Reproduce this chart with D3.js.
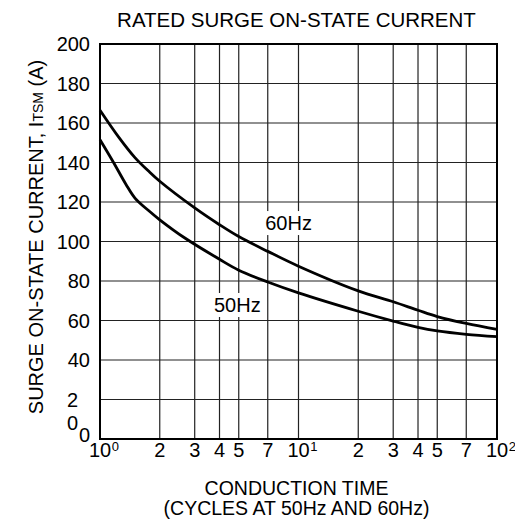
<!DOCTYPE html>
<html><head><meta charset="utf-8">
<script src="https://cdn.jsdelivr.net/npm/d3@7"></script>
<style>
html,body{margin:0;padding:0;background:#fff;}
text{font-family:"Liberation Sans",Arial,Helvetica,sans-serif;fill:#000;}
</style></head>
<body>
<svg id="chart" width="515" height="529"></svg>
<script>
// ---- data ----
const title = "RATED SURGE ON-STATE CURRENT";
const xTitle1 = "CONDUCTION TIME";
const xTitle2 = "(CYCLES AT 50Hz AND 60Hz)";
const cycles60 = [1, 1.25, 1.5, 1.75, 2, 3, 4, 5, 7, 10, 20, 30, 40, 50, 70, 100];
const current60 = [166.5, 152.5, 142.5, 135.8, 130.5, 117, 108.5, 102.5, 95, 87.5, 75, 69.5, 65.2, 62, 58.5, 55.5];
const cycles50 = [1, 1.17, 1.35, 1.5, 1.75, 2, 2.7, 4, 5, 7, 10, 20, 30, 40, 50, 70, 100];
const current50 = [151.5, 140, 129, 122, 115.8, 111, 101.5, 91, 85.5, 79.5, 74, 64.7, 59.7, 56.5, 54.7, 53, 51.8];
const xTickValues = [1, 2, 3, 4, 5, 7, 10, 20, 30, 40, 50, 70, 100];
const xTickLabels = ["10^0", "2", "3", "4", "5", "7", "10^1", "2", "3", "4", "5", "7", "10^2"];
const yTickValues = [0, 20, 40, 60, 80, 100, 120, 140, 160, 180, 200];
const yTickLabels = ["0", "2", "40", "60", "80", "100", "120", "140", "160", "180", "200"];
const seriesLabels = ["60Hz", "50Hz"];
const seriesLabelAt = [[6.8, 105.8], [3.75, 64.3]];

// ---- layout ----
const svg = d3.select("#chart");
const L = 100, R = 497, T = 44, B = 439;
const x = d3.scaleLog().domain([1, 100]).range([L, R]);
const y = d3.scaleLinear().domain([0, 200]).range([B, T]);
const FS = 20;

// grid
const g = svg.append("g");
g.selectAll("line.v").data(xTickValues).join("line")
  .attr("x1", d => x(d)).attr("x2", d => x(d)).attr("y1", T).attr("y2", B)
  .attr("stroke", "#222").attr("stroke-width", 1.2);
g.selectAll("line.h").data(yTickValues).join("line")
  .attr("x1", L).attr("x2", R).attr("y1", d => y(d)).attr("y2", d => y(d))
  .attr("stroke", "#222").attr("stroke-width", 1.2);

// series labels with white background
seriesLabels.forEach((s, i) => {
  const [cx, cy] = seriesLabelAt[i];
  const bg = svg.append("rect").attr("fill", "#fff");
  const t = svg.append("text").attr("x", x(cx)).attr("y", y(cy))
    .attr("font-size", FS).text(s);
  const bb = t.node().getBBox();
  bg.attr("x", bb.x - 2).attr("y", bb.y - 1).attr("width", bb.width + 4).attr("height", bb.height + 2);
});

// border
svg.append("rect").attr("x", L).attr("y", T).attr("width", R - L).attr("height", B - T)
  .attr("fill", "none").attr("stroke", "#000").attr("stroke-width", 2);

// curves
const line = d3.line().x(d => x(d[0])).y(d => y(d[1])).curve(d3.curveCatmullRom.alpha(0.5));
[[cycles60, current60], [cycles50, current50]].forEach(([cx, cy]) => {
  svg.append("path").attr("d", line(cx.map((c, i) => [c, cy[i]])))
    .attr("fill", "none").attr("stroke", "#000").attr("stroke-width", 2.8)
    .attr("stroke-linejoin", "round");
});

// x tick labels
xTickValues.forEach((v, i) => {
  const [base, exp] = xTickLabels[i].split("^");
  const t = svg.append("text").attr("x", x(v)).attr("y", 456.5)
    .attr("text-anchor", "middle").attr("font-size", FS).text(base);
  if (exp !== undefined) {
    const w = t.node().getComputedTextLength();
    svg.append("text").attr("x", x(v) + w / 2 + 0.5).attr("y", 451)
      .attr("font-size", 13).text(exp);
  }
});

// y tick labels
yTickValues.forEach((v, i) => {
  let dx = 0, dy = 0;
  if (v === 20) dx = -12;
  if (v === 0) dy = -4.5;
  svg.append("text").attr("x", 90 + dx).attr("y", y(v) + dy)
    .attr("dy", "0.35em").attr("text-anchor", "end").attr("font-size", FS).text(yTickLabels[i]);
});
// stray "0" under the "2"
svg.append("text").attr("x", 78).attr("y", y(8)).attr("dy", "0.35em")
  .attr("text-anchor", "end").attr("font-size", FS).text("0");

// title
svg.append("text").attr("x", 296.5).attr("y", 26.5).attr("text-anchor", "middle")
  .attr("font-size", 20.5).text(title);

// x axis title
svg.append("text").attr("x", 296.5).attr("y", 494.5).attr("text-anchor", "middle")
  .attr("font-size", 19.5).text(xTitle1);
svg.append("text").attr("x", 296.5).attr("y", 515).attr("text-anchor", "middle")
  .attr("font-size", 19.5).text(xTitle2);

// y axis title
const yt = svg.append("text").attr("transform", "translate(42.5,237) rotate(-90)")
  .attr("text-anchor", "middle").attr("font-size", FS);
yt.append("tspan").text("SURGE ON-STATE CURRENT, I");
yt.append("tspan").attr("font-size", 14).text("TSM");
yt.append("tspan").text(" (A)");
</script>
</body></html>
